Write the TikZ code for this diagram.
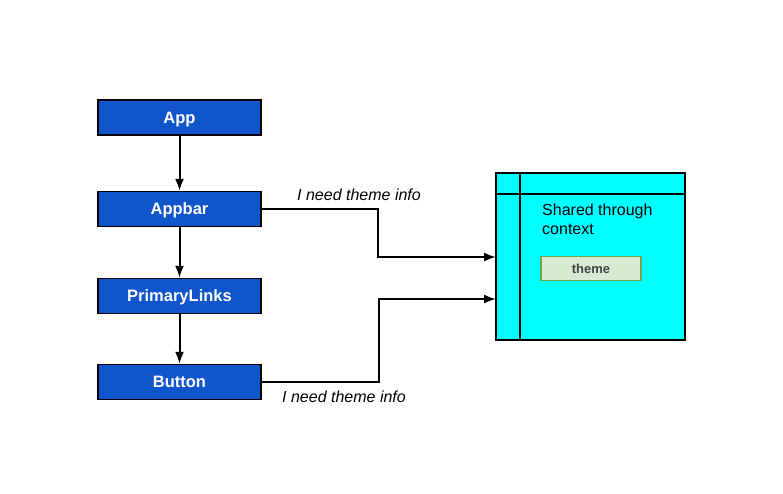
\documentclass[tikz,border=0pt]{standalone}
\usepackage{fontspec}
\setmainfont{Liberation Sans}
\usetikzlibrary{arrows.meta}
\definecolor{gblue}{HTML}{1155CC}
\definecolor{gcyan}{HTML}{00FFFF}
\definecolor{gfill}{HTML}{D9EAD3}
\definecolor{gborder}{HTML}{6AA84F}
\definecolor{gtext}{HTML}{434343}
\begin{document}
\begin{tikzpicture}[x=1pt,y=-1pt,
  comp/.style={draw=black, line width=1.4pt, fill=gblue, text=white, font=\bfseries\fontsize{16.5}{19}\selectfont, minimum width=163pt, minimum height=35pt, inner sep=0pt, text depth=0pt},
  conn/.style={draw=black, line width=2pt, -{Latex[length=12pt,width=9pt]}},
  lbl/.style={font=\itshape\fontsize{16}{19}\selectfont, inner sep=0pt, anchor=base west}]
\useasboundingbox (0,0) rectangle (783,493);
\node[comp] (app) at (179.5,117.5) {App};
\node[comp] (appbar) at (179.5,209) {Appbar};
\node[comp] (links) at (179.5,296) {PrimaryLinks};
\node[comp] (button) at (179.5,382) {Button};
\draw[conn] (app) -- (appbar);
\draw[conn] (appbar) -- (links);
\draw[conn] (links) -- (button);
% context box
\node[draw=black, line width=1.4pt, fill=gcyan, minimum width=189pt, minimum height=167pt, inner sep=0pt] (ctx) at (590.5,256.5) {};
\coordinate (vt) at (520,173);
\coordinate (vb) at (520,340);
\coordinate (hl) at (496,194);
\coordinate (hr) at (685,194);
\draw[line width=1.4pt] (vt) -- (vb);
\draw[line width=1.4pt] (hl) -- (hr);
\node[font=\fontsize{16}{19}\selectfont, align=left, anchor=north west, inner sep=0pt] (shared) at (542,204) {Shared through\\context};
\node[draw=gborder, line width=1.6pt, fill=gfill, text=gtext, font=\bfseries\fontsize{13}{15}\selectfont, minimum width=100pt, minimum height=24pt, inner sep=0pt] (theme) at (591,268.5) {theme};
% connectors
\coordinate (t1) at (496,257);
\coordinate (t2) at (496,299);
\draw[conn] (appbar.east) -| (378,232) |- (t1);
\draw[conn] (button.east) -| (379,340) |- (t2);
\node[lbl] (l1) at (297,200) {I need theme info};
\node[lbl] (l2) at (282,402) {I need theme info};
\end{tikzpicture}
\end{document}
